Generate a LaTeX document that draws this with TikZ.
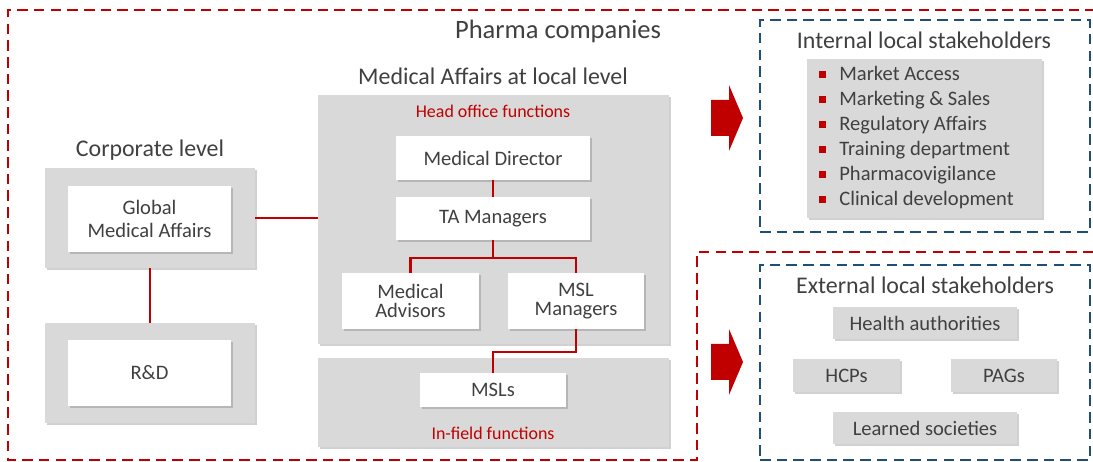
\documentclass[tikz,border=0pt]{standalone}
\usepackage{fontspec}
\setmainfont{Carlito}
\usetikzlibrary{positioning,shadows}
\definecolor{ink}{HTML}{404040}
\definecolor{pharmared}{HTML}{C00000}
\definecolor{navy}{HTML}{1F4E79}
\definecolor{panel}{HTML}{D9D9D9}
\newcommand{\BodySize}{\fontsize{11.7}{13.2}\selectfont}

\begin{document}
\begin{tikzpicture}[x=0.02cm, y=-0.02cm, font=\BodySize, text=ink,
    zone/.style={fill=panel, inner sep=0pt, drop shadow={shadow xshift=1.4pt, shadow yshift=-1.4pt, opacity=0.3, fill=black!60}},
    unit/.style={fill=white, inner sep=0pt, align=center, drop shadow={shadow xshift=1.2pt, shadow yshift=-1.2pt, opacity=0.3, fill=black!60}},
    pill/.style={zone, align=center},
    heading/.style={font=\fontsize{13.6}{16}\selectfont},
    link/.style={draw=pharmared, line width=1.3pt},
    redzone/.style={draw=pharmared, line width=1.2pt, dash pattern=on 6pt off 3.5pt},
    bluezone/.style={draw=navy, line width=1.2pt, dash pattern=on 6pt off 3.5pt, inner sep=0pt},
    redlabel/.style={text=pharmared, font=\fontsize{10.2}{12}\selectfont},
  ]
\useasboundingbox (0,0) rectangle (1093,462);
\clip (0,0) rectangle (1093,462);

% --- Pharma companies (red outline, open at the right) -----------------------
\draw[redzone] (1110,252) -- (697,252) -- (697,460) -- (8,460) -- (8,10) -- (1110,10);
\node[font=\fontsize{15.1}{18}\selectfont] (pharma) at (558,31) {Pharma companies};

% --- Corporate level ------------------------------------------------------------
\node[heading] (corptitle) at (150,150) {Corporate level};
\node[zone, minimum width=4.2cm, minimum height=2.0cm] (corptop) at (150,218) {};
\node[unit, minimum width=3.26cm, minimum height=1.32cm] (global) at (149.5,219) {Global\\Medical Affairs};
\node[zone, minimum width=4.2cm, minimum height=2.0cm] (corpbot) at (150,373) {};
\node[unit, minimum width=3.26cm, minimum height=1.32cm] (rnd) at (149.5,373) {R\&D};

% --- Medical Affairs at local level ---------------------------------------------
\node[heading] (localtitle) at (493,76) {Medical Affairs at local level};
\node[zone, minimum width=7.02cm, minimum height=4.98cm] (headoffice) at (493.5,219.5) {};
\node[redlabel] (headlabel) at (493,111) {Head office functions};
\node[unit, minimum width=3.88cm, minimum height=0.88cm] (director) at (493,158) {Medical Director};
\node[unit, minimum width=3.88cm, minimum height=0.86cm] (tamgr) at (493,218.5) {TA Managers};
\node[unit, minimum width=2.74cm, minimum height=1.12cm, font=\fontsize{11.7}{10.8}\selectfont] (advisors) at (410.5,301) {Medical\\Advisors};
\node[unit, minimum width=2.72cm, minimum height=1.12cm, font=\fontsize{11.7}{10.8}\selectfont] (mslmgr) at (576,301) {MSL\\Managers};
\node[zone, minimum width=7.02cm, minimum height=1.78cm] (infield) at (493.5,402.5) {};
\node[unit, minimum width=2.92cm, minimum height=0.68cm] (msls) at (493,390) {MSLs};
\node[redlabel] (fieldlabel) at (493,433) {In-field functions};

% --- Reporting lines --------------------------------------------------------------
\coordinate (split) at (493,258);
\coordinate (handoff) at (493,352);
\draw[link] (corptop.east) -- (corptop.east -| headoffice.west);
\draw[link] (corptop.south) -- (corpbot.north);
\draw[link] (director) -- (tamgr);
\draw[link] (tamgr.south) -- (split);
\draw[link] (advisors.north) |- (split) -| (mslmgr.north);
\draw[link] (mslmgr.south) |- (handoff) -- (msls.north);

% --- Arrows towards the stakeholders ----------------------------------------------
\foreach \ay in {118,362} {
  \fill[pharmared] (711,\ay-18) -- (729,\ay-18) -- (729,\ay-33) -- (743,\ay) -- (729,\ay+33) -- (729,\ay+18) -- (711,\ay+18) -- cycle;
}

% --- Internal local stakeholders ----------------------------------------------------
\node[bluezone, minimum width=6.6cm, minimum height=4.24cm] (internal) at (925,126) {};
\node[heading] (inttitle) at (924,40) {Internal local stakeholders};
\node[zone, minimum width=4.7cm, minimum height=3.18cm] (intlist) at (924.5,138.5) {};
\foreach \t [count=\i] in {Market Access, Marketing \& Sales, Regulatory Affairs, Training department, Pharmacovigilance, Clinical development} {
  \fill[pharmared] (819,46+25*\i) rectangle ++(7,7);
  \node[anchor=base west, inner sep=0pt] (item\i) at (839,56+25*\i) {\t};
}

% --- External local stakeholders ----------------------------------------------------
\node[bluezone, minimum width=6.6cm, minimum height=3.9cm] (external) at (925,362.5) {};
\node[heading] (exttitle) at (925,285) {External local stakeholders};
\node[pill, minimum width=3.68cm, minimum height=0.64cm] (health) at (925,323) {Health authorities};
\node[pill, minimum width=2.14cm, minimum height=0.66cm] (hcps) at (846.5,375.5) {HCPs};
\node[pill, minimum width=2.12cm, minimum height=0.66cm] (pags) at (1004,375.5) {PAGs};
\node[pill, minimum width=3.68cm, minimum height=0.64cm] (learned) at (925,428) {Learned societies};
\end{tikzpicture}
\end{document}
